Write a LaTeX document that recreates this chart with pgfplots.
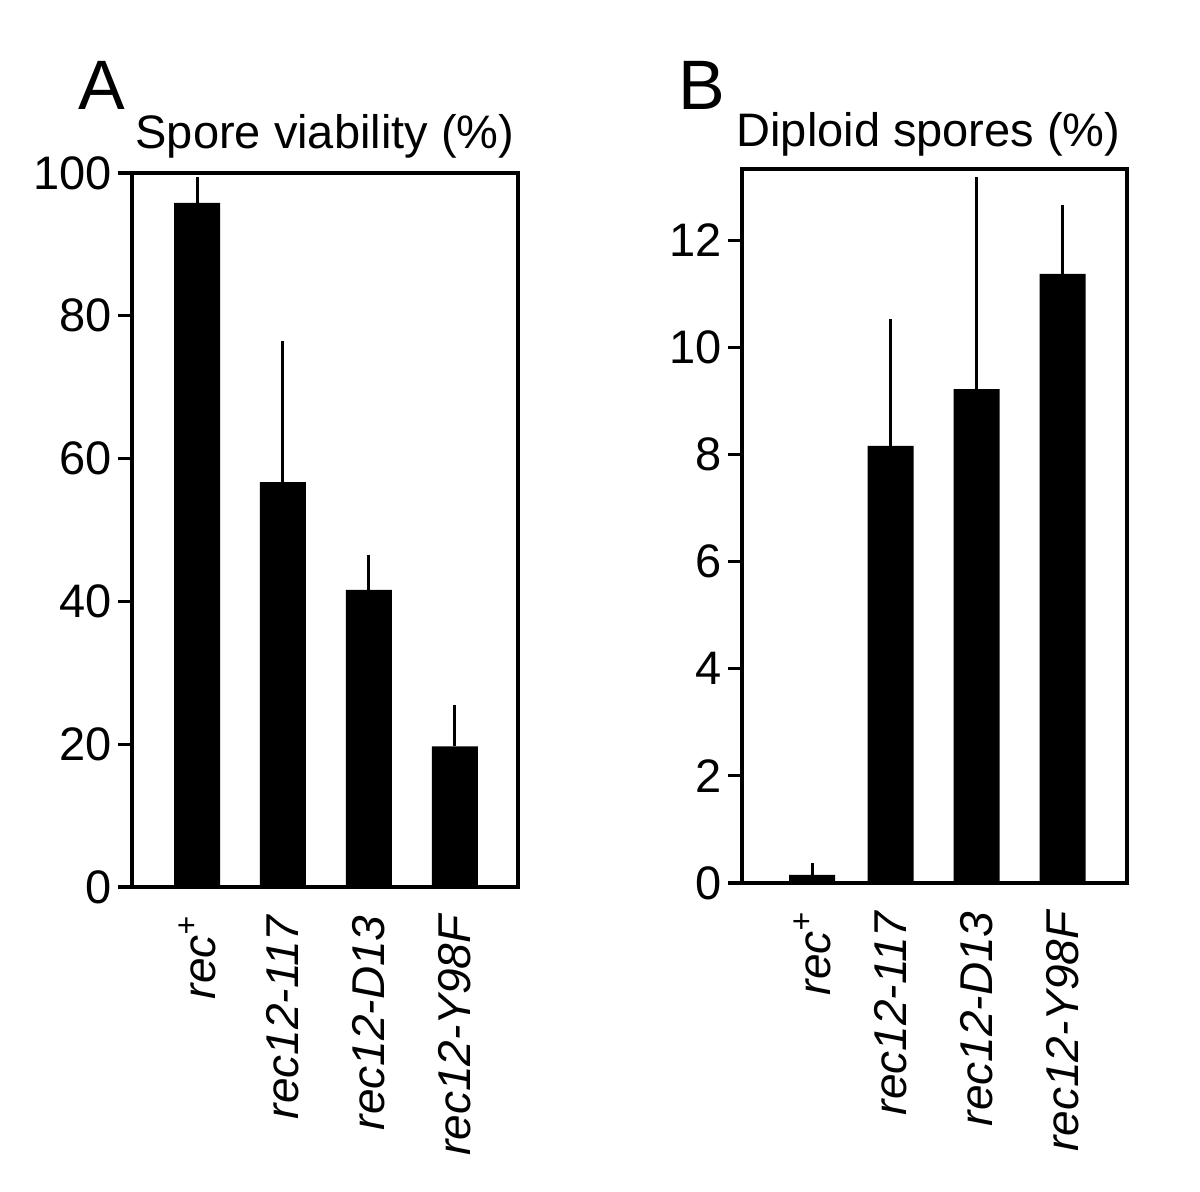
\documentclass[border=0pt]{standalone}
\usepackage{pgfplots}
\pgfplotsset{compat=1.18}
\usepackage{fontspec}
\setmainfont{Liberation Sans}
\begin{document}
\begin{tikzpicture}
\useasboundingbox (0,0) rectangle (600pt,596pt);
\pgfplotsset{
  panel/.style={
    anchor=south west, scale only axis,
    ymin=0, enlargelimits=false,
    axis line style={line width=1.6pt},
    major tick length=7pt, tick align=outside,
    ytick pos=left, xtick pos=bottom,
    every tick/.style={line width=1.6pt, black},
    xtick style={draw=none},
    /pgf/number format/assume math mode=true,
    tick label style={font=\fontsize{23.5}{27}\selectfont},
    yticklabel style={inner xsep=3pt},
    xticklabel style={rotate=90, anchor=east, inner xsep=7pt, inner ysep=0pt, font=\fontsize{23}{27}\selectfont\itshape},
    title style={font=\fontsize{23.5}{27}\selectfont, at={(0.5,1)}, anchor=base, yshift=6pt},
    ybar, bar width=23pt,
  }
}
\begin{axis}[panel, at={(66pt,152.5pt)}, width=193pt, height=357pt,
  xmin=-0.756, xmax=3.733, ymax=100, ytick={0,20,40,60,80,100},
  xtick={0,1,2,3},
  xticklabels={rec\textsuperscript{+}, rec12-117, rec12-D13, rec12-Y98F},
  title={Spore viability (\%)}]
\addplot[fill=black, draw=none, error bars/.cd, y dir=plus, y explicit, error mark=none,
  error bar style={line width=1.5pt, black}]
  table[x=x, y=y, y error=e] {
x y e
0 95.8 3.6
1 56.7 19.8
2 41.6 4.9
3 19.7 5.8
};
\end{axis}
\begin{axis}[panel, at={(371pt,154.5pt)}, width=192.5pt, height=357pt,
  xmin=-0.814, xmax=3.663, ymax=13.33, ytick={0,2,4,6,8,10,12},
  xtick={0,0.913,1.913,2.913},
  xticklabels={rec\textsuperscript{+}, rec12-117, rec12-D13, rec12-Y98F},
  title={Diploid spores (\%)}, title style={xshift=-3pt, yshift=-1pt}]
\addplot[fill=black, draw=none, error bars/.cd, y dir=plus, y explicit, error mark=none,
  error bar style={line width=1.5pt, black}]
  table[x=x, y=y, y error=e] {
x y e
0 0.15 0.23
0.913 8.16 2.37
1.913 9.22 3.96
2.913 11.37 1.28
};
\end{axis}
\node[anchor=base west, inner sep=0pt, font=\fontsize{35}{40}\selectfont] at (39pt,541pt) {A};
\node[anchor=base west, inner sep=0pt, font=\fontsize{35}{40}\selectfont] at (339pt,541pt) {B};
\end{tikzpicture}
\end{document}
